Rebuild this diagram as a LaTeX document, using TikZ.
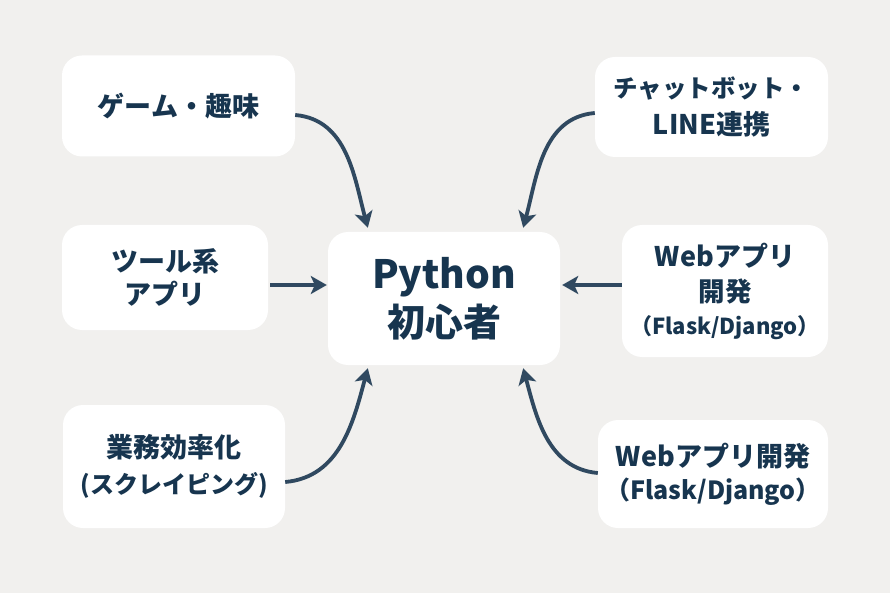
\documentclass[tikz,border=0pt]{standalone}
\usepackage{fontspec}
\setmainfont{Noto Sans CJK JP}
\usetikzlibrary{arrows.meta,calc}
\definecolor{bgc}{HTML}{F1F0EE}
\definecolor{txt}{HTML}{17354F}
\definecolor{arr}{HTML}{304960}
\newcommand{\fsz}[2]{\fontsize{#1}{#2}\selectfont}
\tikzset{
  box/.style={fill=white,rounded corners=20pt,align=center,text=txt,inner sep=0pt,
    font=\bfseries\fsz{27}{34}},
  conn/.style={draw=arr,line width=3.8pt,-{Stealth[length=16pt,width=18pt,inset=4pt]}}
}
\begin{document}
\begin{tikzpicture}[x=1pt,y=-1pt]
\fill[bgc] (0,0) rectangle (890,593);
\useasboundingbox (0,0) rectangle (890,593);

\node[box,minimum width=233pt,minimum height=101pt] (b1) at (178.5,106) {ゲーム・趣味};
\node[box,minimum width=206pt,minimum height=105pt,font=\bfseries\fsz{27}{33}] (b2) at (165,277.5) {ツール系\\アプリ};
\node[box,minimum width=222pt,minimum height=123pt,font=\bfseries\fsz{27}{36}] (b3) at (174,466.5) {業務効率化\\{\fsz{24}{36}(スクレイピング)}};
\node[box,minimum width=232pt,minimum height=133pt,font=\bfseries\fsz{39}{48}] (c) at (444,298.5) {Python\\{\fsz{38}{48}初心者}};
\node[box,minimum width=233pt,minimum height=100pt,font=\bfseries\fsz{27}{37}] (b4) at (711.5,107) {{\fsz{24.5}{37}チャットボット・}\\LINE連携};
\node[box,minimum width=206pt,minimum height=132pt,font=\bfseries\fsz{27}{35}] (b5) at (725,291) {Webアプリ\\{\fsz{26.5}{35}開発}\\[-2pt]{\fsz{22}{33}（Flask/Django）}};
\node[box,minimum width=230pt,minimum height=108pt,font=\bfseries\fsz{27}{33}] (b6) at (713,474) {Webアプリ開発\\{\fsz{25}{33}（Flask/Django）}};

\draw[conn] ([yshift=-9pt]b1.east) to[out=-5,in=105] ([xshift=40pt,yshift=4pt]c.north west);
\draw[conn] ([yshift=-6pt]b4.west) to[out=185,in=75] ([xshift=-37pt,yshift=4pt]c.north east);
\draw[conn] ([xshift=2pt,yshift=-7.5pt]b2.east) -- ([xshift=-1pt,yshift=13.5pt]c.west);
\draw[conn] ([yshift=6pt]b5.west) -- ([xshift=2pt,yshift=13.5pt]c.east);
\draw[conn] ([yshift=-15.5pt]b3.east) to[out=5,in=-105] ([xshift=40pt,yshift=-3pt]c.south west);
\draw[conn] ([yshift=1pt]b6.west) to[out=175,in=-75] ([xshift=-37pt,yshift=-3pt]c.south east);
\end{tikzpicture}
\end{document}
